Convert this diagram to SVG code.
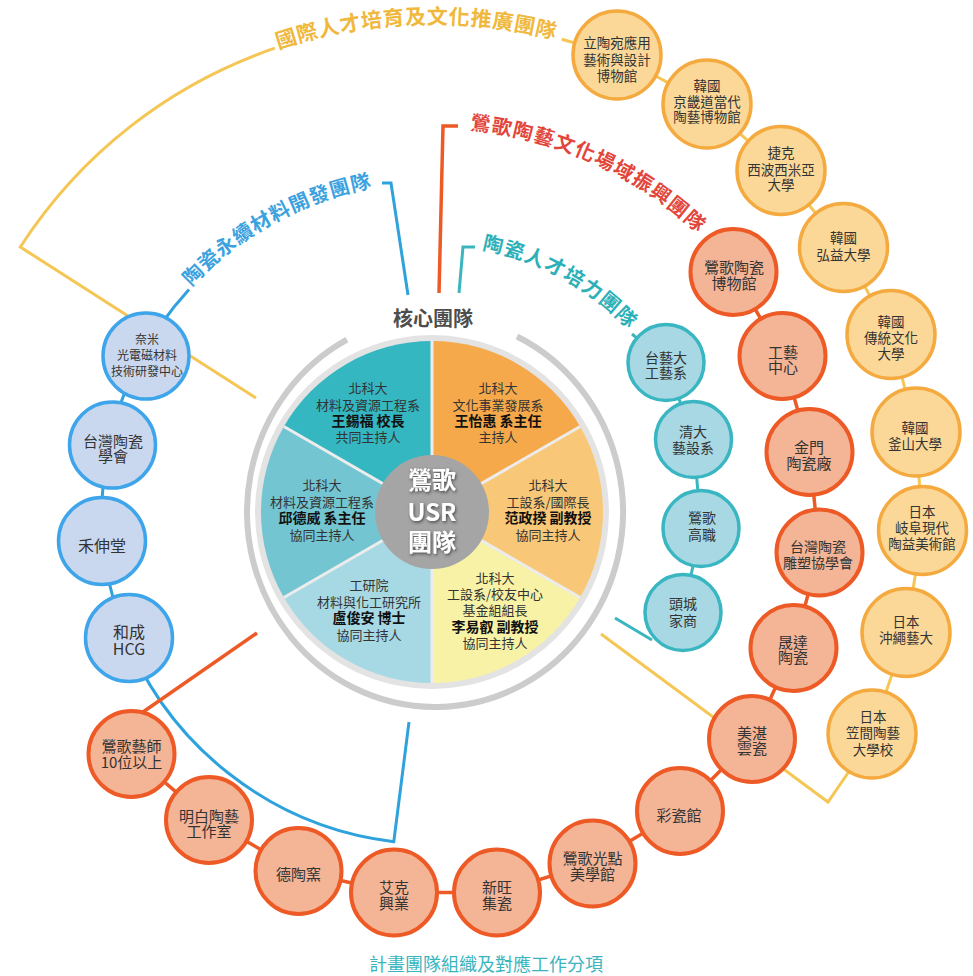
<svg xmlns="http://www.w3.org/2000/svg" width="973" height="976" viewBox="0 0 973 976">
<style>
text{font-family:"Noto Sans CJK TC","Noto Sans CJK SC",sans-serif;text-anchor:middle;fill:#333}
.s13{font-size:13px}
.n{font-size:14px;font-weight:bold;fill:#111}
.ny{font-size:13.5px}
.nr{font-size:15px}
.nt{font-size:14px}
.nb{font-size:15px}
.ttl{font-size:20px;font-weight:bold}
.cy{fill:#fbd898;stroke:#f4aa3e;stroke-width:3.5}
.cr{fill:#f4b496;stroke:#ee5a26;stroke-width:4}
.ct{fill:#a7d8e3;stroke:#39b6c1;stroke-width:3.5}
.cb{fill:#c9d8ef;stroke:#3fa5ea;stroke-width:3.5}
.ly{fill:none;stroke:#f5c654;stroke-width:3}
.lr{fill:none;stroke:#ee5a26;stroke-width:3.5}
.lt{fill:none;stroke:#3bb6bf;stroke-width:3}
.lb{fill:none;stroke:#2ea2dc;stroke-width:3}
.div{stroke:#ececec;stroke-width:3}
</style>
<defs>
<filter id="sh" x="-20%" y="-20%" width="140%" height="140%">
<feDropShadow dx="1" dy="1.5" stdDeviation="1.5" flood-color="#333" flood-opacity="0.8"/>
</filter>
<path id="pY" d="M173.9,98.4 A489,489 0 0 1 662.6,81.2"/>
<path id="pB" d="M150.2,341 A331,331 0 0 1 440.5,182.1"/>
<path id="pR" d="M396.1,129.8 A385,385 0 0 1 746.4,289.4"/>
<path id="pT" d="M427.2,245.1 A268,268 0 0 1 662.1,374"/>
</defs>

<g id="connectors">
<path class="ly" d="M274.8,48.2 A491,491 0 0 0 20.3,247 L256,398"/>
<path class="ly" d="M561.7,39.2 L617,55 L707,104 L781,170.5 L843.5,247.5 L891,334.5 L916,432 L922.5,530.5 L906,632.5 L872,734"/>
<path class="ly" d="M601,634 L828,802 L850,770"/>
<path class="lb" d="M189,289.4 A331,331 0 0 0 393.8,841.7 L409,722"/>
<path class="lb" d="M382,183 L391,183 L408,295"/>
<path class="lr" d="M439,293 L443,126 L458,126"/>
<path class="lr" d="M733.5,272 L782.5,356 L809.5,452 L819.5,552.5 L793.5,648 L752,739 L680,811 L592.5,863.5 L497,892.5 L394,892.5 L298.5,871 L209,820 L131.5,754"/>
<path class="lr" d="M257,633 L143,712"/>
<path class="lt" d="M459,293 L463,247 L475,247"/>
<path class="lt" d="M632,334 L666,362.5 L693.5,439.5 L701,528.5 L683,612.5"/>
<path class="lt" d="M615,618 L652,640"/>
</g>

<g id="titles">
<text class="ttl" style="fill:#f0b83c;font-size:21px;letter-spacing:0.6px"><textPath href="#pY" startOffset="50%">國際人才培育及文化推廣團隊</textPath></text>
<text class="ttl" style="fill:#3ba2e0;letter-spacing:1px"><textPath href="#pB" startOffset="50%">陶瓷永續材料開發團隊</textPath></text>
<text class="ttl" style="fill:#e2453a;letter-spacing:1.3px"><textPath href="#pR" startOffset="50%">鶯歌陶藝文化場域振興團隊</textPath></text>
<text class="ttl" style="fill:#2cb0b8;letter-spacing:1.3px"><textPath href="#pT" startOffset="50%">陶瓷人才培力團隊</textPath></text>
<text x="433" y="326" style="font-size:20px;font-weight:bold;fill:#4d4d4d">核心團隊</text>
<text x="486" y="971" style="font-size:18px;fill:#3ab5c0">計畫團隊組織及對應工作分項</text>
</g>

<g id="core">
<path d="M517,336.5 A188,195 0 1 1 347,339.7" fill="none" stroke="#cccccc" stroke-width="6"/>
<circle cx="432" cy="512" r="177" fill="#e3e3e3"/>
<path d="M432,512 L283.9,426.5 A171,171 0 0 1 432,341 Z" fill="#35b7c1"/>
<path d="M432,512 L432,341 A171,171 0 0 1 580.1,426.5 Z" fill="#f5a94b"/>
<path d="M432,512 L580.1,426.5 A171,171 0 0 1 580.1,597.5 Z" fill="#f8c878"/>
<path d="M432,512 L580.1,597.5 A171,171 0 0 1 432,683 Z" fill="#f7f2a6"/>
<path d="M432,512 L432,683 A171,171 0 0 1 283.9,597.5 Z" fill="#a7d9e5"/>
<path d="M432,512 L283.9,597.5 A171,171 0 0 1 283.9,426.5 Z" fill="#74c5d2"/>
<line class="div" x1="432" y1="512" x2="432" y2="341"/>
<line class="div" x1="432" y1="512" x2="432" y2="683"/>
<line class="div" x1="432" y1="512" x2="580.1" y2="426.5"/>
<line class="div" x1="432" y1="512" x2="580.1" y2="597.5"/>
<line class="div" x1="432" y1="512" x2="283.9" y2="426.5"/>
<line class="div" x1="432" y1="512" x2="283.9" y2="597.5"/>
<circle cx="432" cy="512" r="57" fill="#a5a5a5"/>
<text filter="url(#sh)" style="font-size:24px;font-weight:bold;fill:#fff"><tspan x="432" y="489">鶯歌</tspan><tspan x="432" y="521">USR</tspan><tspan x="432" y="551">團隊</tspan></text>
</g>

<g id="seg-tl">
<text class="s13"><tspan x="368" y="392.5">北科大</tspan><tspan x="368" y="409.5">材料及資源工程系</tspan><tspan class="n" x="368" y="426">王錫福 校長</tspan><tspan x="368" y="442">共同主持人</tspan></text>
</g>
<g id="seg-tr">
<text class="s13"><tspan x="498" y="392.5">北科大</tspan><tspan x="498" y="409.5">文化事業發展系</tspan><tspan class="n" x="498" y="426">王怡惠 系主任</tspan><tspan x="498" y="442">主持人</tspan></text>
</g>
<g id="seg-r">
<text class="s13"><tspan x="548" y="489.5">北科大</tspan><tspan x="548" y="506.5">工設系/國際長</tspan><tspan class="n" x="548" y="523">范政揆 副教授</tspan><tspan x="548" y="539.5">協同主持人</tspan></text>
</g>
<g id="seg-l">
<text class="s13"><tspan x="322" y="489.5">北科大</tspan><tspan x="322" y="506.5">材料及資源工程系</tspan><tspan class="n" x="322" y="523">邱德威 系主任</tspan><tspan x="322" y="539.5">協同主持人</tspan></text>
</g>
<g id="seg-bl">
<text class="s13"><tspan x="369" y="589.5">工研院</tspan><tspan x="369" y="606.5">材料與化工研究所</tspan><tspan class="n" x="369" y="623">盧俊安 博士</tspan><tspan x="369" y="639.5">協同主持人</tspan></text>
</g>
<g id="seg-br">
<text class="s13"><tspan x="495" y="582.5">北科大</tspan><tspan x="495" y="598.5">工設系/校友中心</tspan><tspan x="495" y="614.5">基金組組長</tspan><tspan class="n" x="495" y="632">李易叡 副教授</tspan><tspan x="495" y="647.5">協同主持人</tspan></text>
</g>

<g id="y1"><circle class="cy" cx="617" cy="55" r="44"/><text class="ny"><tspan x="617" y="48">立陶宛應用</tspan><tspan x="617" y="65">藝術與設計</tspan><tspan x="617" y="81">博物館</tspan></text></g>
<g id="y2"><circle class="cy" cx="707" cy="104" r="44"/><text class="ny"><tspan x="707" y="91">韓國</tspan><tspan x="707" y="107">京畿道當代</tspan><tspan x="707" y="122">陶藝博物館</tspan></text></g>
<g id="y3"><circle class="cy" cx="781" cy="170.5" r="44"/><text class="ny"><tspan x="781" y="158">捷克</tspan><tspan x="781" y="175">西波西米亞</tspan><tspan x="781" y="190">大學</tspan></text></g>
<g id="y4"><circle class="cy" cx="843.5" cy="247.5" r="44"/><text class="ny"><tspan x="843.5" y="243">韓國</tspan><tspan x="843.5" y="260">弘益大學</tspan></text></g>
<g id="y5"><circle class="cy" cx="891" cy="334.5" r="44"/><text class="ny"><tspan x="891" y="327">韓國</tspan><tspan x="891" y="343">傳統文化</tspan><tspan x="891" y="359">大學</tspan></text></g>
<g id="y6"><circle class="cy" cx="916" cy="432" r="44"/><text class="ny"><tspan x="915" y="433">韓國</tspan><tspan x="915" y="449">釜山大學</tspan></text></g>
<g id="y7"><circle class="cy" cx="922.5" cy="530.5" r="44"/><text class="ny"><tspan x="922" y="517">日本</tspan><tspan x="922" y="533">岐阜現代</tspan><tspan x="922" y="549">陶益美術館</tspan></text></g>
<g id="y8"><circle class="cy" cx="906" cy="632.5" r="44"/><text class="ny"><tspan x="906" y="627">日本</tspan><tspan x="906" y="643">沖繩藝大</tspan></text></g>
<g id="y9"><circle class="cy" cx="872" cy="734" r="44"/><text class="ny"><tspan x="873" y="722">日本</tspan><tspan x="873" y="738">笠間陶藝</tspan><tspan x="873" y="755">大學校</tspan></text></g>

<g id="r1"><circle class="cr" cx="733.5" cy="272" r="43"/><text class="nr"><tspan x="734" y="272.5">鶯歌陶瓷</tspan><tspan x="734" y="288.5">博物館</tspan></text></g>
<g id="r2"><circle class="cr" cx="782.5" cy="356" r="43"/><text class="nr"><tspan x="783" y="357.5">工藝</tspan><tspan x="783" y="372.5">中心</tspan></text></g>
<g id="r3"><circle class="cr" cx="809.5" cy="452" r="43"/><text class="nr"><tspan x="809" y="452.5">金門</tspan><tspan x="809" y="468.5">陶瓷廠</tspan></text></g>
<g id="r4"><circle class="cr" cx="819.5" cy="552.5" r="43"/><text class="nt"><tspan x="818" y="552">台灣陶瓷</tspan><tspan x="818" y="568">雕塑協學會</tspan></text></g>
<g id="r5"><circle class="cr" cx="793.5" cy="648" r="43"/><text class="nr"><tspan x="793" y="647.5">晟達</tspan><tspan x="793" y="662.5">陶瓷</tspan></text></g>
<g id="r6"><circle class="cr" cx="752" cy="739" r="43"/><text class="nr"><tspan x="752" y="738.5">美湛</tspan><tspan x="752" y="753.5">雲瓷</tspan></text></g>
<g id="r7"><circle class="cr" cx="680" cy="811" r="43"/><text class="nr" x="679" y="820.5">彩瓷館</text></g>
<g id="r8"><circle class="cr" cx="592.5" cy="863.5" r="43"/><text class="nr"><tspan x="592.5" y="863.5">鶯歌光點</tspan><tspan x="592.5" y="879.5">美學館</tspan></text></g>
<g id="r9"><circle class="cr" cx="497" cy="892.5" r="43"/><text class="nr"><tspan x="497" y="892.5">新旺</tspan><tspan x="497" y="908.5">集瓷</tspan></text></g>
<g id="r10"><circle class="cr" cx="394" cy="892.5" r="43"/><text class="nr"><tspan x="394" y="892.5">艾克</tspan><tspan x="394" y="908.5">興業</tspan></text></g>
<g id="r11"><circle class="cr" cx="298.5" cy="871" r="43"/><text class="nr" x="298.5" y="879.5">德陶窯</text></g>
<g id="r12"><circle class="cr" cx="209" cy="820" r="43"/><text class="nr"><tspan x="209" y="821.5">明白陶藝</tspan><tspan x="209" y="836.5">工作室</tspan></text></g>
<g id="r13"><circle class="cr" cx="131.5" cy="754" r="43"/><text class="nr"><tspan x="131.5" y="751.5">鶯歌藝師</tspan><tspan x="131.5" y="767.5">10位以上</tspan></text></g>

<g id="t1"><circle class="ct" cx="666" cy="362.5" r="38"/><text class="nt"><tspan x="666" y="363">台藝大</tspan><tspan x="666" y="378">工藝系</tspan></text></g>
<g id="t2"><circle class="ct" cx="693.5" cy="439.5" r="38"/><text class="nt"><tspan x="693" y="437">清大</tspan><tspan x="693" y="453">藝設系</tspan></text></g>
<g id="t3"><circle class="ct" cx="701" cy="528.5" r="38"/><text class="nt"><tspan x="702" y="523">鶯歌</tspan><tspan x="702" y="540">高職</tspan></text></g>
<g id="t4"><circle class="ct" cx="683" cy="612.5" r="38"/><text class="nt"><tspan x="683" y="609">頭城</tspan><tspan x="683" y="626">家商</tspan></text></g>

<g id="b1"><circle class="cb" cx="146" cy="356" r="43"/><text style="font-size:12px"><tspan x="147" y="344">奈米</tspan><tspan x="147" y="360">光電磁材料</tspan><tspan x="147" y="376">技術研發中心</tspan></text></g>
<g id="b2"><circle class="cb" cx="112.5" cy="445" r="43"/><text class="nb"><tspan x="113" y="446.5">台灣陶瓷</tspan><tspan x="113" y="461.5">學會</tspan></text></g>
<g id="b3"><circle class="cb" cx="102" cy="541" r="43.5"/><text class="nb" x="102" y="551.5" style="font-size:16px">禾伸堂</text></g>
<g id="b4"><circle class="cb" cx="129" cy="638" r="43.5"/><text class="nb" style="font-size:16px"><tspan x="129" y="637.5">和成</tspan><tspan x="129" y="655">HCG</tspan></text></g>
</svg>
